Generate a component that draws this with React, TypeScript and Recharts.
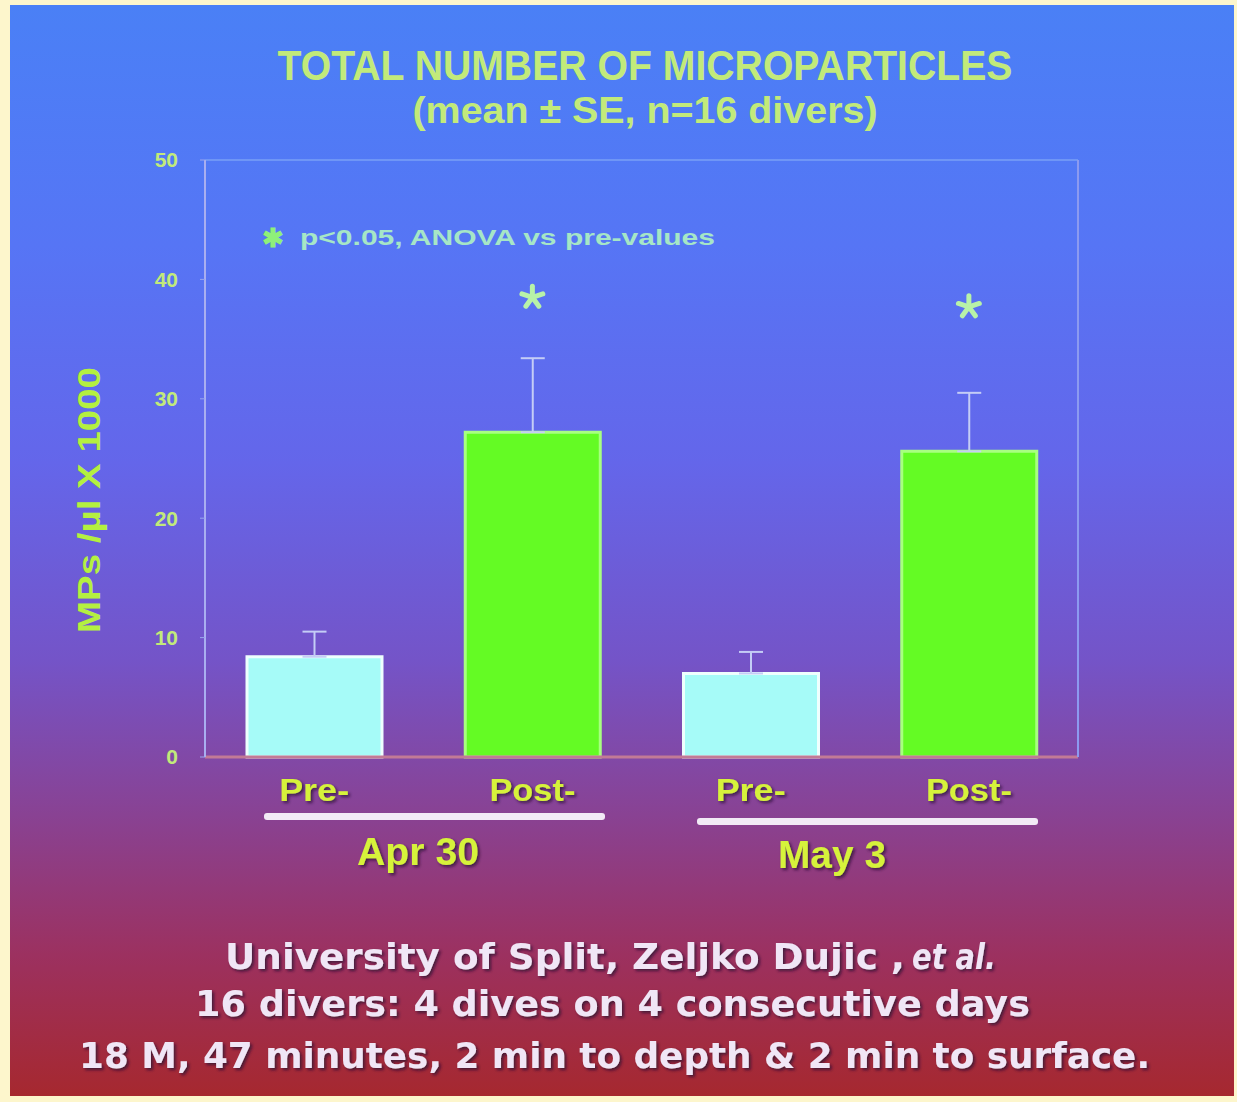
import { Bar, Cell, ComposedChart, ErrorBar, ReferenceLine, Scatter, XAxis, YAxis } from 'recharts';

// values (MPs/µl x 1000)
const phases = ['Pre-', 'Post-', 'Pre-', 'Post-'];
const dives = ['Apr 30', 'Apr 30', 'May 3', 'May 3'];
const meanMPs = [8.4, 27.2, 7.0, 25.6];
const seMPs = [2.1, 6.2, 1.8, 4.9];
const starAt = [null, 38.5, null, 37.7];
const yTicks = [0, 10, 20, 30, 40, 50];
const diveLabels = ['Apr 30', 'May 3'];
const footLines = [
  'University of Split, Zeljko Dujic , ',
  '16 divers: 4 dives on 4 consecutive days',
  '18 M, 47 minutes, 2 min to depth & 2 min to surface.',
];

const data = phases.map((p, i) => ({
  key: dives[i] + ' ' + p,
  phase: p,
  mean: meanMPs[i],
  err: [0, seMPs[i]],
  star: starAt[i],
}));

const W = 1237;
const H = 1102;
const GREEN_TXT = '#c2ea7a';
const LABEL_TXT = '#d6f23a';

function Star(props: any) {
  const { cx, cy } = props;
  if (!Number.isFinite(cx) || !Number.isFinite(cy)) return <g />;
  return (
    <g stroke="#b8f2a8" strokeWidth={5} strokeLinecap="round">
      {[90, 162, 234, 306, 18].map((a) => (
        <line
          key={a}
          x1={cx}
          y1={cy}
          x2={cx + 11 * Math.cos((a * Math.PI) / 180)}
          y2={cy - 11 * Math.sin((a * Math.PI) / 180)}
        />
      ))}
    </g>
  );
}

function PhaseTick(props: any) {
  const { x, y, payload } = props;
  const label = payload.value.split(' ').pop();
  return (
    <text
      x={x}
      y={y + 36}
      textAnchor="middle"
      fill={LABEL_TXT}
      fontFamily="Liberation Sans, Arial, sans-serif"
      fontWeight={700}
      fontSize={31}
      textLength={label === 'Pre-' ? 70 : 86}
      lengthAdjust="spacingAndGlyphs"
      filter="url(#sh)"
    >
      {label}
    </text>
  );
}

export default function App() {
  return (
    <div style={{ position: 'absolute', left: 0, top: 0, width: W, height: H, background: '#fdf6cc' }}>
      <div
        style={{
          position: 'absolute',
          left: 10,
          top: 5,
          width: 1224,
          height: 1091,
          background:
            'linear-gradient(180deg, #4a80f6 0%, #5675f5 22%, #6466ea 42%, #7454c8 60%, #8a4190 75%, #9c3160 87%, #a6282f 100%)',
        }}
      />
      <svg width={W} height={H} style={{ position: 'absolute', left: 0, top: 0 }}>
        <defs>
          <filter id="sh" x="-10%" y="-30%" width="120%" height="160%">
            <feDropShadow dx="2" dy="2" stdDeviation="1.5" floodColor="#2a1030" floodOpacity="0.75" />
          </filter>
        </defs>
        <g fontFamily="Liberation Sans, Arial, sans-serif" fontWeight={700} fill={GREEN_TXT}>
          <text x={645} y={80} textAnchor="middle" fontSize={42} textLength={735} lengthAdjust="spacingAndGlyphs">
            TOTAL NUMBER OF MICROPARTICLES
          </text>
          <text x={645} y={123} textAnchor="middle" fontSize={36} textLength={465} lengthAdjust="spacingAndGlyphs">
            (mean ± SE, n=16 divers)
          </text>
          <text
            transform="translate(100,500) rotate(-90)"
            textAnchor="middle"
            fontSize={32}
            fill="#b4f040"
            textLength={266}
            lengthAdjust="spacingAndGlyphs"
          >
            MPs /µl X 1000
          </text>
          <text x={262} y={247} fontSize={26} fill="#8ef07a">✱</text>
          <text x={300} y={245} fontSize={22} fill="#a6e6c6" textLength={415} lengthAdjust="spacingAndGlyphs">
            p&lt;0.05, ANOVA vs pre-values
          </text>
        </g>
        <g fill="#f2eaf6">
          <rect x={264} y={813} width={341} height={7} rx={3} />
          <rect x={697} y={818} width={341} height={7} rx={3} />
        </g>
        <g fontFamily="Liberation Sans, Arial, sans-serif" fontWeight={700} fill={LABEL_TXT} filter="url(#sh)" fontSize={38}>
          <text x={418} y={865} textAnchor="middle" textLength={122} lengthAdjust="spacingAndGlyphs">
            {diveLabels[0]}
          </text>
          <text x={832} y={868} textAnchor="middle" textLength={108} lengthAdjust="spacingAndGlyphs">
            {diveLabels[1]}
          </text>
        </g>
        <g fontFamily="DejaVu Sans, sans-serif" fontWeight={700} fill="#f0e6f6" filter="url(#sh)" fontSize={36}>
          <text x={225} y={969} textLength={680} lengthAdjust="spacingAndGlyphs">
            {footLines[0]}
          </text>
          <text x={912} y={969} fontStyle="italic" textLength={84} lengthAdjust="spacingAndGlyphs">
            et al.
          </text>
          <text x={195} y={1016} textLength={835} lengthAdjust="spacingAndGlyphs">
            {footLines[1]}
          </text>
          <text x={79} y={1068} textLength={1071} lengthAdjust="spacingAndGlyphs">
            {footLines[2]}
          </text>
        </g>
      </svg>
      <div style={{ position: 'absolute', left: 0, top: 0 }}>
        <ComposedChart width={W} height={H} data={data} margin={{ top: 160, right: 149, left: 125, bottom: 285 }} barCategoryGap="38%">
          <XAxis
            dataKey="key"
            height={60}
            tick={<PhaseTick />}
            tickLine={false}
            interval={0}
            axisLine={{ stroke: '#c27a96', strokeWidth: 3 }}
          />
          <YAxis
            width={80}
            domain={[0, 50]}
            ticks={yTicks}
            tickSize={5}
            tickMargin={22}
            tickLine={{ stroke: '#9aa6ee' }}
            axisLine={{ stroke: '#a9aef0', strokeWidth: 2 }}
            tick={{ fill: GREEN_TXT, fontSize: 21, fontWeight: 700, fontFamily: 'Liberation Sans, Arial, sans-serif' }}
          />
          <YAxis
            yAxisId="frame"
            orientation="right"
            width={10}
            domain={[0, 50]}
            tick={false}
            tickLine={false}
            axisLine={{ stroke: '#8c9af0', strokeWidth: 2 }}
          />
          <ReferenceLine y={50} stroke="#6f96f6" strokeWidth={2} />
          <Bar dataKey="mean" barSize={135} isAnimationActive={false} strokeWidth={3}>
            {data.map((d, i) => (
              <Cell
                key={d.key}
                fill={d.phase === 'Pre-' ? '#a6fbf8' : '#64fb24'}
                stroke={d.phase === 'Pre-' ? '#eefffe' : '#a8ff80'}
              />
            ))}
            <ErrorBar dataKey="err" direction="y" width={12} stroke="#c4cdf6" strokeWidth={2} />
          </Bar>
          <Scatter dataKey="star" shape={<Star />} isAnimationActive={false} />
        </ComposedChart>
      </div>
    </div>
  );
}
